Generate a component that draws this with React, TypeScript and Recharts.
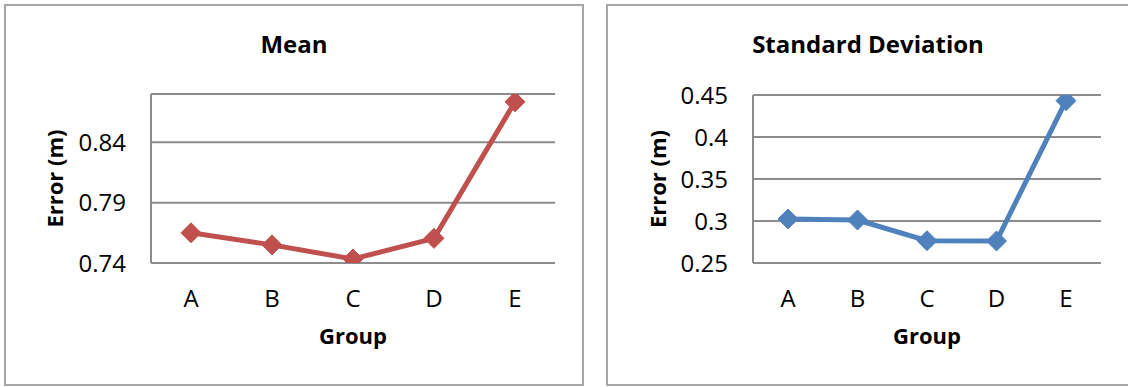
import React from "react"
import { LineChart, Line, XAxis, YAxis, CartesianGrid } from "recharts"

// categories and values
const groups = ["A", "B", "C", "D", "E"]
const meanError = [0.765, 0.755, 0.7433, 0.7604, 0.8735]
const stdError = [0.3024, 0.3012, 0.2766, 0.2762, 0.4432]
const meanTicks = [0.74, 0.79, 0.84]
const stdTicks = [0.25, 0.3, 0.35, 0.4, 0.45]

const FONT = "'Open Sans', 'Noto Sans', sans-serif"
const AXIS_GRAY = "#8c8c8c"

const meanData = groups.map((g, i) => ({ group: g, value: meanError[i] }))
const stdData = groups.map((g, i) => ({ group: g, value: stdError[i] }))

function diamond(color: string) {
  return (props: any) => {
    const { cx, cy, index } = props
    if (cx == null || cy == null) return <g key={`d-${index}`} />
    const r = 10
    return (
      <path
        key={`d-${index}`}
        d={`M${cx},${cy - r} L${cx + r},${cy} L${cx},${cy + r} L${cx - r},${cy} Z`}
        fill={color}
        stroke={color}
        strokeWidth={1}
        strokeLinejoin="round"
      />
    )
  }
}

interface PanelProps {
  data: { group: string; value: number }[]
  ticks: number[]
  domain: [number, number]
  color: string
  width: number
  top: number
  right: number
  yWidth: number
  pad: number
  labelOffset: number
}

function ErrorChart({ data, ticks, domain, color, width, top, right, yWidth, pad, labelOffset }: PanelProps) {
  const tickStyle = { fontSize: 24, fill: "#000", fontFamily: FONT }
  return (
    <LineChart width={width} height={387} data={data} margin={{ top, right, bottom: 0, left: 0 }}>
      <CartesianGrid vertical={false} stroke={AXIS_GRAY} strokeWidth={2} />
      <XAxis
        dataKey="group"
        height={124}
        padding={{ left: pad, right: pad }}
        tickLine={false}
        tickSize={0}
        tickMargin={27}
        tick={tickStyle}
        axisLine={{ stroke: AXIS_GRAY, strokeWidth: 2 }}
        label={{
          value: "Group",
          position: "insideBottom",
          offset: 43,
          style: { fontSize: 22, fontWeight: 700, fill: "#000", fontFamily: FONT },
        }}
      />
      <YAxis
        width={yWidth}
        domain={domain}
        ticks={ticks}
        type="number"
        allowDataOverflow
        tickLine={false}
        tickSize={0}
        tickMargin={25}
        tick={tickStyle}
        axisLine={{ stroke: AXIS_GRAY, strokeWidth: 2 }}
        label={{
          value: "Error (m)",
          angle: -90,
          position: "insideLeft",
          offset: labelOffset,
          style: { textAnchor: "middle", fontSize: 22, fontWeight: 700, fill: "#000", fontFamily: FONT },
        }}
      />
      <Line
        type="linear"
        dataKey="value"
        stroke={color}
        strokeWidth={5}
        dot={diamond(color)}
        activeDot={false}
        isAnimationActive={false}
      />
    </LineChart>
  )
}

export default function App() {
  return (
    <div
      style={{
        position: "absolute",
        left: 0,
        top: 0,
        width: 1128,
        height: 387,
        overflow: "hidden",
        background: "#fff",
        fontFamily: FONT,
      }}
    >
      <div
        style={{
          position: "absolute",
          left: 4,
          top: 4,
          width: 580,
          height: 382,
          boxSizing: "border-box",
          border: "2px solid #a6a6a6",
        }}
      />
      <div
        style={{
          position: "absolute",
          left: 606,
          top: 4,
          width: 560,
          height: 382,
          boxSizing: "border-box",
          border: "2px solid #a6a6a6",
        }}
      />
      <div style={{ position: "absolute", left: 0, top: 0 }}>
        <ErrorChart
          data={meanData}
          ticks={meanTicks}
          domain={[0.74, 0.88]}
          color="#C0504D"
          width={590}
          top={94}
          right={35}
          yWidth={151}
          pad={40}
          labelOffset={55}
        />
      </div>
      <div style={{ position: "absolute", left: 600, top: 0 }}>
        <ErrorChart
          data={stdData}
          ticks={stdTicks}
          domain={[0.25, 0.45]}
          color="#4F81BD"
          width={528}
          top={95}
          right={27}
          yWidth={153}
          pad={35}
          labelOffset={58}
        />
      </div>
      <svg width={1128} height={387} style={{ position: "absolute", left: 0, top: 0, pointerEvents: "none" }}>
        <text x={294} y={53} textAnchor="middle" fontSize={24} fontWeight={700} fontFamily={FONT} fill="#000">
          Mean
        </text>
        <text x={868} y={53} textAnchor="middle" fontSize={24} fontWeight={700} fontFamily={FONT} fill="#000">
          Standard Deviation
        </text>
      </svg>
    </div>
  )
}
